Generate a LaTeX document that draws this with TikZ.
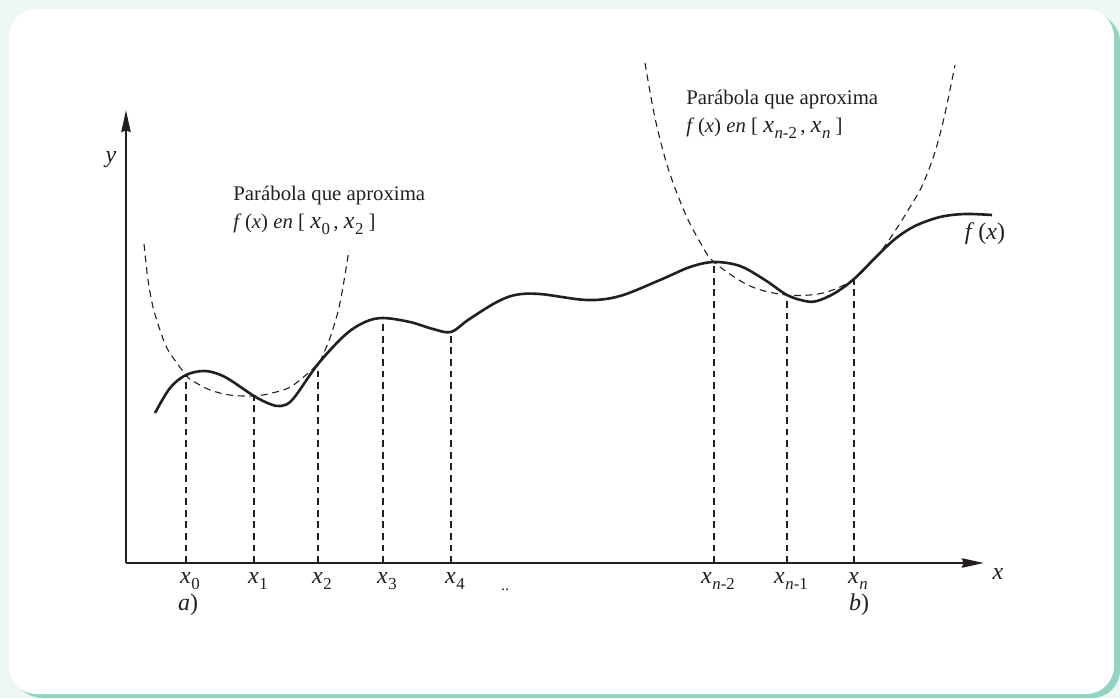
\documentclass[tikz,border=0pt]{standalone}
\usepackage{fontspec}
\setmainfont{Liberation Serif}
\usetikzlibrary{arrows.meta}
\definecolor{CardMint}{HTML}{EDF7F4}
\definecolor{CardTeal}{HTML}{93D3C3}
\definecolor{InkBlack}{HTML}{231F20}
\newcommand{\xsub}[1]{{\fontsize{12}{12}\selectfont\textit{x}}\kern0.3pt\raisebox{-0.6ex}{\fontsize{8.4}{9}\selectfont #1}}

\begin{document}
\begin{tikzpicture}[
        x=0.5pt,y=-0.5pt,
        font=\fontsize{10.4}{14}\selectfont,
        axis/.style={line width=1.25pt,draw=InkBlack,-{Stealth[length=11pt,width=4.6pt,inset=0.8pt]}},
        curve/.style={line width=1.3pt,draw=InkBlack},
        guide/.style={line width=0.55pt,draw=InkBlack,dash pattern=on 3.4pt off 2.4pt},
        tick/.style={line width=0.5pt,draw=InkBlack},
        lbl/.style={inner sep=0pt,text=InkBlack},
        note/.style={lbl,align=left,anchor=north west}
      ]
        % card
        \fill[CardMint] (0,0) rectangle (1120,698);
        \fill[CardTeal,rounded corners=14pt] (14,14) rectangle (1120,698);
        \fill[white,rounded corners=14pt] (9,9) rectangle (1114,694);
        % axes
        \coordinate (o) at (126,563);
        \coordinate (ytip) at (126,110);
        \coordinate (xtip) at (984,563);
        \draw[axis] (o)--(ytip);
        \draw[axis] (o)--(xtip);
        \node[lbl,font=\fontsize{12}{12}\selectfont] (ylab) at (111,160) {\textit{y}};
        \node[lbl,font=\fontsize{12}{12}\selectfont] (xlab) at (998,574) {\textit{x}};
        % nodes on the axis and on the curve
        \foreach \i/\px/\py/\txt in {0/186/375/0,1/254/396/1,2/318/364/2,3/383/318/3,4/451/332/4,
            5/714/262/\textit{n}-2,6/787/295/\textit{n}-1,7/854/279/\textit{n}}{
          \coordinate (a\i) at (\px,563);
          \coordinate (t\i) at (\px,556);
          \coordinate (c\i) at (\px,\py);
          \draw[tick] (a\i)--(t\i);
          \draw[guide] (a\i)--(c\i);
          \node[lbl,anchor=north] (x\i) at (\px+4,572) {\xsub{\txt}};
        }
        \node[lbl,font=\fontsize{12}{12}\selectfont] (ca) at (188,605) {\textit{a})};
        \node[lbl,font=\fontsize{12}{12}\selectfont] (cb) at (859,605) {\textit{b})};
        \node[lbl,font=\fontsize{8}{8}\selectfont] (dots) at (505,590) {..};
        % f(x)
        \draw[curve] plot[smooth,tension=0.55] coordinates {(155,413) (170,388) (c0) (205,371) (225,377)
          (c1) (270,404) (281,406) (293,399) (c2) (345,335) (365,322) (c3) (410,322) (433,329)
          (c4) (468,320) (495,303) (515,295) (540,294) (587,300) (620,296) (660,280) (690,267)
          (c5) (740,266) (765,280) (c6) (805,301) (817,301) (835,293) (c7) (875,258) (895,239)
          (915,226) (940,217) (965,214) (992,215)};
        \node[lbl,font=\fontsize{12}{12}\selectfont] (flab) at (985,234) {\textit{f}\,(\textit{x})};
        % approximating parabolas
        \draw[guide] plot[smooth,tension=0.55] coordinates {(144,244) (148,280) (153,307) (160,330) (168,350)
          (c0) (193,381) (210,390) (230,395) (c1) (272,393) (292,386) (c2) (322,357) (331,335)
          (340,303) (349,250)};
        \draw[guide] plot[smooth,tension=0.55] coordinates {(645,63) (655,118) (668,168) (685,213) (700,242)
          (c5) (750,286) (c6) (823,293) (c7) (880,252) (895,231) (910,207) (922,186) (934,155)
          (944,118) (955,65)};
        \node[note] (left) at (233,186) {Parábola que aproxima\\
          \textit{f}\,(\textit{x}) \textit{en} [ \xsub{0}\,, \xsub{2} ]};
        \node[note] (right) at (686,90) {Parábola que aproxima\\
          \textit{f}\,(\textit{x}) \textit{en} [ \xsub{\textit{n}-2}\,, \xsub{\textit{n}} ]};
      \end{tikzpicture}
\end{document}
